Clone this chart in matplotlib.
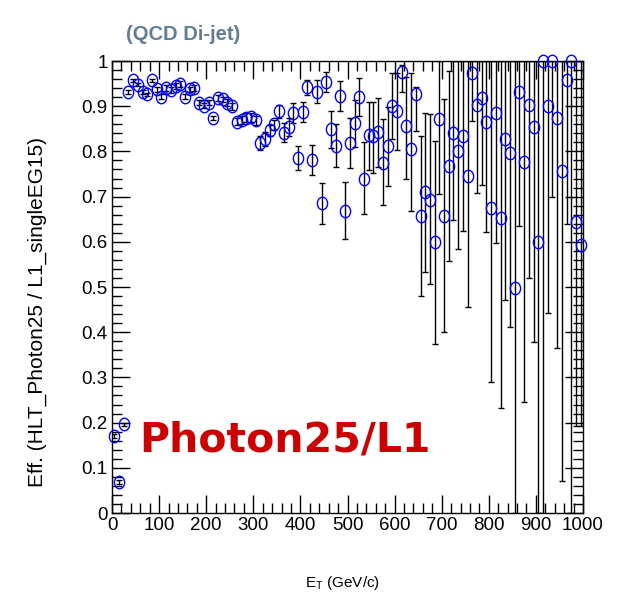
import numpy as np
import matplotlib
matplotlib.use("Agg")
import matplotlib.pyplot as plt
from matplotlib.ticker import MultipleLocator
from matplotlib.path import Path
from matplotlib.transforms import Affine2D

# 10 GeV bins, 0-1000 GeV
et = np.arange(5, 1000, 10)

# efficiency, bin by bin
eff = np.array([
    0.170, 0.068, 0.196, 0.931, 0.957, 0.948, 0.931, 0.926, 0.957, 0.937,
    0.921, 0.940, 0.936, 0.945, 0.949, 0.921, 0.937, 0.940, 0.908, 0.901,
    0.908, 0.874, 0.918, 0.915, 0.908, 0.900, 0.866, 0.870, 0.875, 0.876,
    0.869, 0.818, 0.827, 0.847, 0.860, 0.889, 0.840, 0.853, 0.884, 0.786,
    0.888, 0.943, 0.781, 0.932, 0.685, 0.954, 0.849, 0.813, 0.923, 0.668,
    0.818, 0.862, 0.921, 0.740, 0.836, 0.833, 0.844, 0.775, 0.812, 0.900,
    0.889, 0.975, 0.857, 0.805, 0.928, 0.656, 0.711, 0.692, 0.599, 0.871,
    0.658, 0.768, 0.840, 0.801, 0.833, 0.746, 0.974, 0.903, 0.919, 0.866,
    0.674, 0.884, 0.653, 0.827, 0.796, 0.498, 0.931, 0.776, 0.903, 0.853,
    0.600, 1.000, 0.900, 1.000, 0.873, 0.757, 0.959, 1.000, 0.643, 0.593])

# lower / upper error bar lengths
err_lo = np.array([
    0.004, 0.004, 0.004, 0.004, 0.004, 0.004, 0.004, 0.004, 0.004, 0.005,
    0.005, 0.006, 0.006, 0.006, 0.006, 0.006, 0.006, 0.006, 0.006, 0.006,
    0.006, 0.004, 0.006, 0.006, 0.007, 0.008, 0.008, 0.009, 0.010, 0.010,
    0.010, 0.015, 0.014, 0.013, 0.013, 0.016, 0.019, 0.020, 0.022, 0.027,
    0.022, 0.018, 0.033, 0.026, 0.046, 0.023, 0.041, 0.047, 0.034, 0.062,
    0.054, 0.052, 0.043, 0.078, 0.077, 0.080, 0.078, 0.094, 0.089, 0.073,
    0.086, 0.043, 0.117, 0.137, 0.082, 0.176, 0.177, 0.186, 0.225, 0.165,
    0.257, 0.210, 0.192, 0.218, 0.209, 0.290, 0.106, 0.194, 0.193, 0.244,
    0.384, 0.287, 0.421, 0.356, 0.384, 0.498, 0.295, 0.530, 0.383, 0.474,
    0.600, 1.000, 0.457, 0.300, 0.507, 0.686, 0.320, 1.000, 0.450, 0.400])

err_hi = np.array([
    0.004, 0.004, 0.004, 0.004, 0.004, 0.004, 0.004, 0.004, 0.004, 0.005,
    0.005, 0.006, 0.006, 0.006, 0.006, 0.006, 0.006, 0.006, 0.006, 0.006,
    0.006, 0.004, 0.006, 0.006, 0.007, 0.008, 0.008, 0.009, 0.010, 0.010,
    0.010, 0.016, 0.017, 0.011, 0.009, 0.014, 0.022, 0.020, 0.022, 0.026,
    0.021, 0.015, 0.033, 0.026, 0.046, 0.021, 0.040, 0.048, 0.033, 0.065,
    0.057, 0.052, 0.042, 0.081, 0.074, 0.077, 0.075, 0.096, 0.087, 0.073,
    0.084, 0.016, 0.107, 0.168, 0.015, 0.177, 0.175, 0.191, 0.225, 0.129,
    0.257, 0.210, 0.160, 0.199, 0.167, 0.254, 0.026, 0.097, 0.081, 0.134,
    0.326, 0.116, 0.347, 0.173, 0.204, 0.502, 0.069, 0.224, 0.097, 0.147,
    0.400, 0.000, 0.100, 0.000, 0.127, 0.243, 0.041, 0.000, 0.357, 0.407])

plt.rcParams['font.family'] = ['Liberation Sans', 'DejaVu Sans']

fig = plt.figure(figsize=(6.18, 6.01), dpi=100)
ax = fig.add_axes([112/618, 1 - 513/601, 471/618, 452/601])

# ROOT-like open marker, a bit taller than wide
ellipse = Path.unit_circle().transformed(Affine2D().scale(0.82, 1.0))

ax.errorbar(et, eff, yerr=[err_lo, err_hi], fmt='none', ecolor='black',
            elinewidth=1.0, capsize=2, capthick=1.0, zorder=2)
ax.plot(et, eff, linestyle='none', marker=ellipse, mfc='none', mec='#0000ff',
        mew=1.0, ms=9, zorder=3, clip_on=False)

ax.set_xlim(0, 1000)
ax.set_ylim(0, 1)
ax.xaxis.set_major_locator(MultipleLocator(100))
ax.xaxis.set_minor_locator(MultipleLocator(20))
ax.yaxis.set_minor_locator(MultipleLocator(0.02))
ax.set_yticks(np.arange(0, 1.01, 0.1))
ax.set_yticklabels(['0', '0.1', '0.2', '0.3', '0.4', '0.5', '0.6', '0.7', '0.8', '0.9', '1'])
ax.tick_params(which='both', direction='in', top=True, right=True, labelsize=13.5, width=1)
ax.tick_params(which='major', length=13)
ax.tick_params(which='minor', length=7)
ax.tick_params(axis='x', pad=3)
ax.tick_params(axis='y', pad=3)
for s in ax.spines.values():
    s.set_linewidth(1.0)

fig.text(37/618, 1 - 312/601, 'Eff. (HLT_Photon25 / L1_singleEG15)', rotation=90,
         ha='center', va='center', fontsize=15)
fig.text(343/618, 1 - 583/601, r'E$_{\mathregular{T}}$ (GeV/c)', ha='center', va='center', fontsize=11)

fig.text(183/618, 1 - 35/601, '(QCD Di-jet)', ha='center', va='center', fontsize=14.5,
         fontweight='bold', color='#627d92', family=['Liberation Sans Narrow', 'Liberation Sans'])

ax.text(0.367, 0.161, 'Photon25/L1', transform=ax.transAxes, ha='center', va='center',
        fontsize=29.5, fontweight='bold', color='#cc0000', family=['DejaVu Sans'])

fig.savefig('out.png', dpi=100)
